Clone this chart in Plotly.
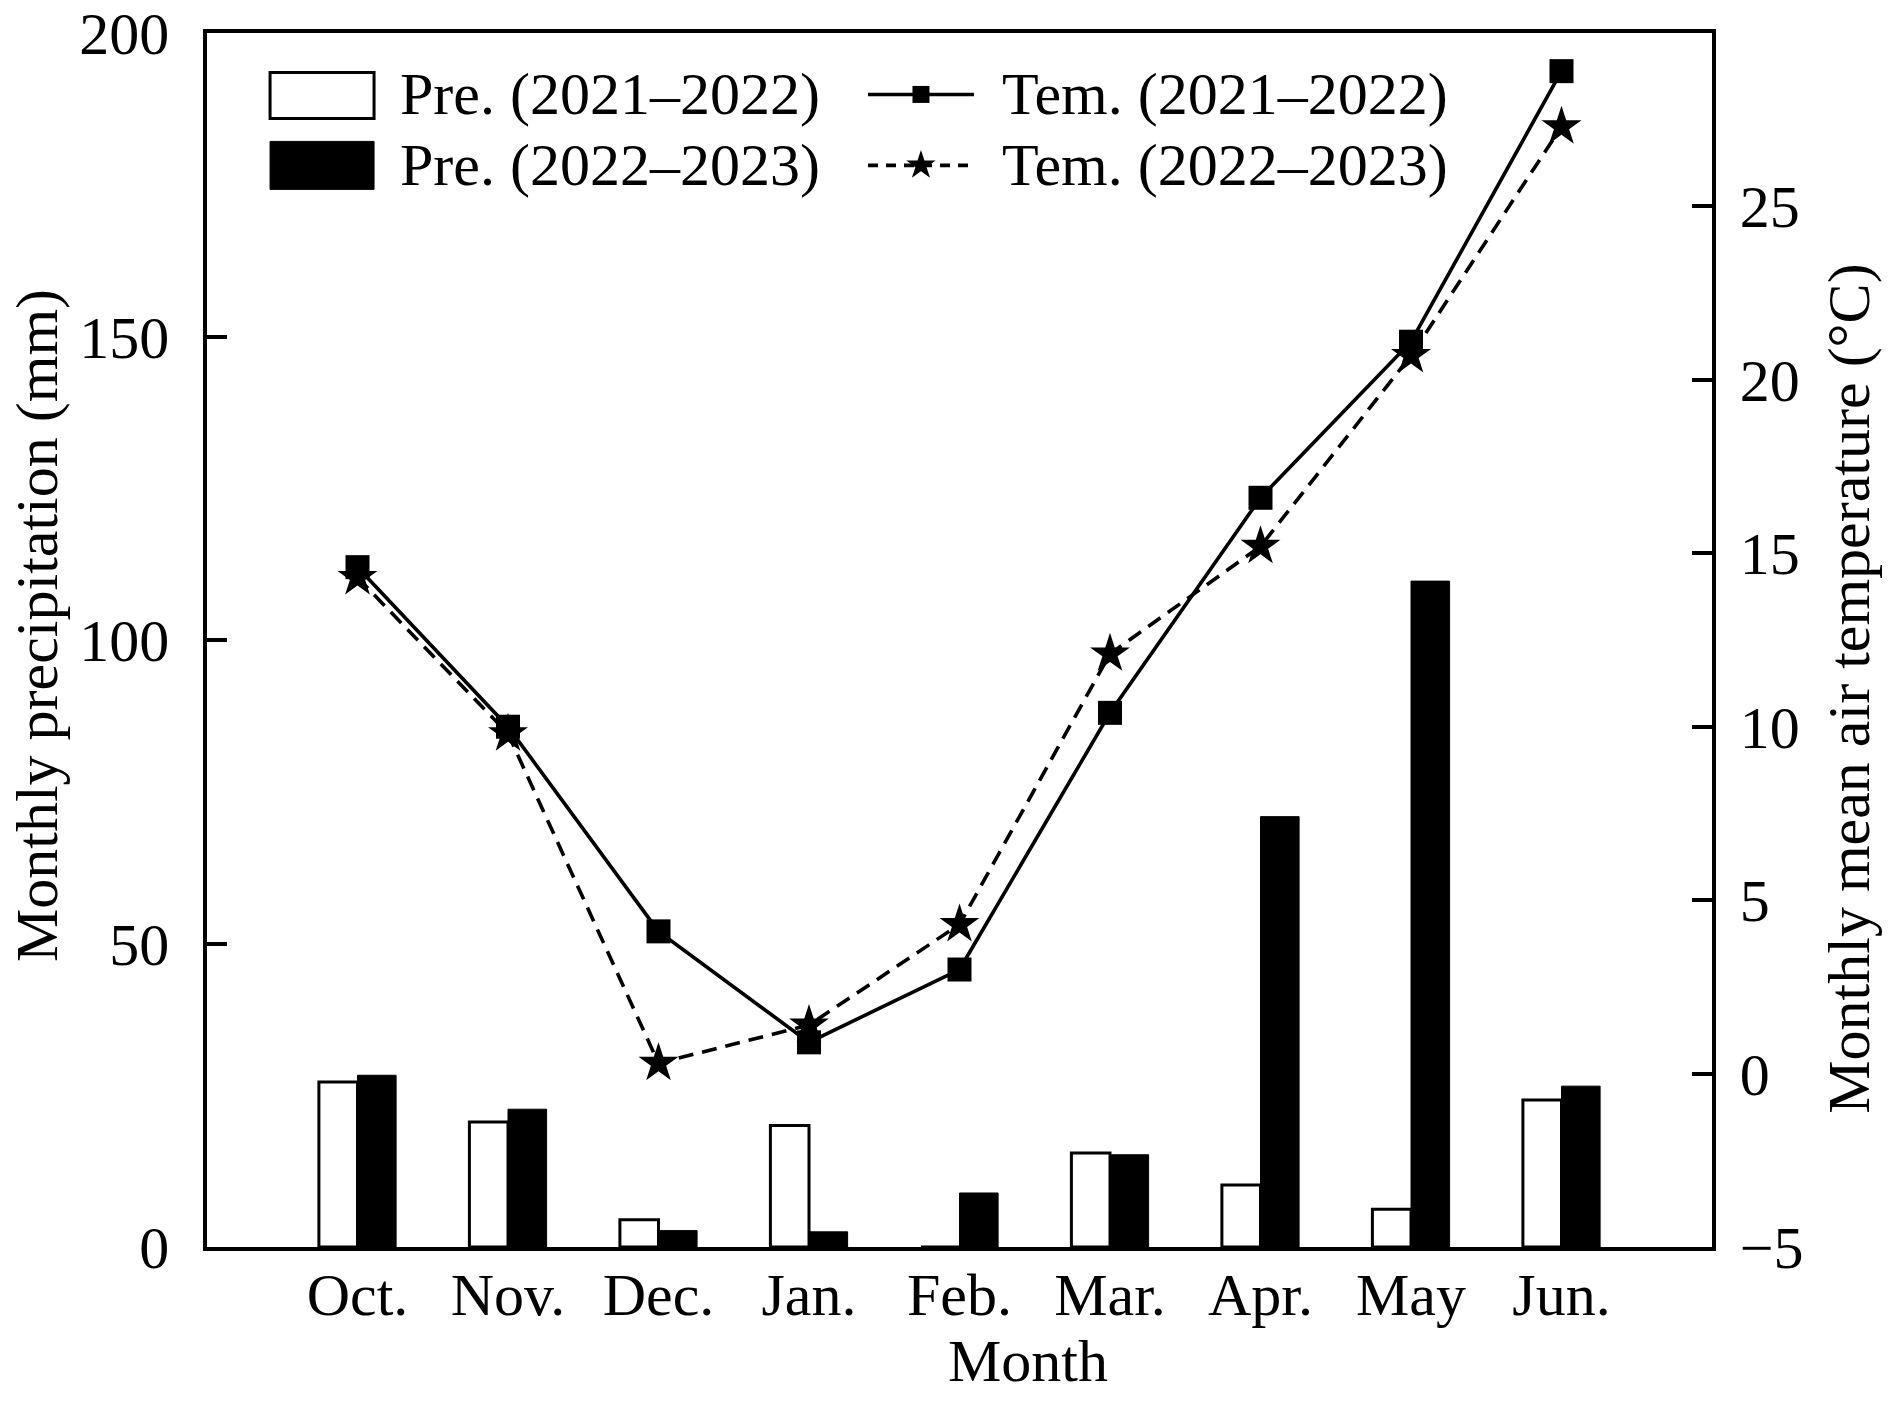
import plotly.graph_objects as go

months = ["Oct.", "Nov.", "Dec.", "Jan.", "Feb.", "Mar.", "Apr.", "May", "Jun."]
pre_2122 = [27.2, 20.6, 4.5, 20.0, 0.0, 15.5, 10.2, 6.2, 24.2]
pre_2223 = [28.3, 22.7, 2.7, 2.5, 8.9, 15.2, 70.9, 109.7, 26.5]
tem_2122 = [14.6, 10.0, 4.1, 0.9, 3.0, 10.4, 16.6, 21.1, 28.9]
tem_2223 = [14.3, 9.8, 0.3, 1.4, 4.3, 12.1, 15.2, 20.7, 27.3]
left_ticks = [0, 50, 100, 150, 200]
right_ticks = [-5, 0, 5, 10, 15, 20, 25]
legend_labels = ["Pre. (2021\u20132022)", "Pre. (2022\u20132023)",
                 "Tem. (2021\u20132022)", "Tem. (2022\u20132023)"]

FONT = "Liberation Serif, Times New Roman, serif"
FS = 60
DASH = "15px,9px"
LW = 3.6

fig = go.Figure()
fig.add_trace(go.Bar(x=months, y=pre_2122, name=legend_labels[0],
                     marker=dict(color="white", line=dict(color="black", width=3)),
                     showlegend=False))
fig.add_trace(go.Bar(x=months, y=pre_2223, name=legend_labels[1],
                     marker=dict(color="black", line=dict(color="black", width=1)),
                     showlegend=False))
fig.add_trace(go.Scatter(x=months, y=tem_2122, yaxis="y2", mode="lines+markers",
                         name=legend_labels[2],
                         line=dict(color="black", width=LW),
                         marker=dict(symbol="square", size=24, color="black"),
                         showlegend=False))
fig.add_trace(go.Scatter(x=months, y=tem_2223, yaxis="y2", mode="lines+markers",
                         name=legend_labels[3],
                         line=dict(color="black", width=LW, dash=DASH),
                         marker=dict(symbol="star", size=30, color="black"),
                         showlegend=False))

# ---- manual legend (layout positions, on hidden overlay axes) ----
row1, row2 = 0.9494, 0.891
lx0, lx1 = 0.4392, 0.5096
lxm = (lx0 + lx1) / 2
fig.add_trace(go.Scatter(x=[lx0, lx1], y=[row1, row1], xaxis="x3", yaxis="y3",
                         mode="lines", line=dict(color="black", width=LW),
                         showlegend=False, hoverinfo="skip"))
fig.add_trace(go.Scatter(x=[lxm], y=[row1], xaxis="x3", yaxis="y3",
                         mode="markers", marker=dict(symbol="square", size=17, color="black"),
                         showlegend=False, hoverinfo="skip"))
fig.add_trace(go.Scatter(x=[lx0, lx1], y=[row2, row2], xaxis="x3", yaxis="y3",
                         mode="lines", line=dict(color="black", width=LW, dash="10px,8px"),
                         showlegend=False, hoverinfo="skip"))
fig.add_trace(go.Scatter(x=[lxm], y=[row2], xaxis="x3", yaxis="y3",
                         mode="markers", marker=dict(symbol="star", size=22, color="black"),
                         showlegend=False, hoverinfo="skip"))

shapes = [
    dict(type="rect", xref="paper", yref="paper", x0=0.0419, x1=0.111, y0=0.9296, y1=0.9675,
         line=dict(color="black", width=3), fillcolor="white"),
    dict(type="rect", xref="paper", yref="paper", x0=0.0419, x1=0.111, y0=0.8712, y1=0.9107,
         line=dict(color="black", width=1), fillcolor="black"),
]

annotations = []
for txt, x, y in [(legend_labels[0], 0.1269, row1), (legend_labels[1], 0.1269, row2),
                  (legend_labels[2], 0.527, row1), (legend_labels[3], 0.527, row2)]:
    annotations.append(dict(text=txt, x=x, y=y, xref="paper", yref="paper",
                            xanchor="left", yanchor="middle", showarrow=False,
                            font=dict(family=FONT, size=FS, color="black")))
# axis titles
annotations.append(dict(text="Monthly precipitation (mm)", x=-0.1125, y=0.512,
                        xref="paper", yref="paper", textangle=-90, showarrow=False,
                        xanchor="center", yanchor="middle",
                        font=dict(family=FONT, size=FS, color="black")))
annotations.append(dict(text="Monthly mean air temperature (\u00b0C)", x=1.0905, y=0.46,
                        xref="paper", yref="paper", textangle=-90, showarrow=False,
                        xanchor="center", yanchor="middle",
                        font=dict(family=FONT, size=FS, color="black")))
annotations.append(dict(text="Month", x=0.5455, y=-0.094,
                        xref="paper", yref="paper", showarrow=False,
                        xanchor="center", yanchor="middle",
                        font=dict(family=FONT, size=FS, color="black")))

fig.update_layout(
    width=1890, height=1403,
    margin=dict(l=199, r=186, t=25, b=164),
    paper_bgcolor="white", plot_bgcolor="white",
    font=dict(family=FONT, size=FS, color="black"),
    barmode="group", bargap=0.487, bargroupgap=0,
    showlegend=False,
    shapes=shapes, annotations=annotations,
    xaxis=dict(type="category", range=[-1, 9], showline=True, mirror=True,
               linecolor="black", linewidth=3.5, ticks="", showgrid=False,
               zeroline=False, ticklabelstandoff=-8, automargin=False,
               tickfont=dict(family=FONT, size=FS)),
    yaxis=dict(range=[0, 200], tickvals=left_ticks, showline=True, linecolor="black",
               linewidth=3.5, ticks="inside", ticklen=20, tickwidth=3.5,
               tickcolor="black", showgrid=False, zeroline=False, automargin=False,
               ticklabeloverflow="allow",
               ticklabelstandoff=22, tickfont=dict(family=FONT, size=FS)),
    yaxis2=dict(range=[-5, 30], tickvals=right_ticks, overlaying="y", side="right",
                showline=True, linecolor="black", linewidth=3.5, ticks="inside",
                ticklen=20, tickwidth=3.5, tickcolor="black", showgrid=False,
                zeroline=False, ticklabelstandoff=12, automargin=False,
                ticklabeloverflow="allow",
                tickfont=dict(family=FONT, size=FS)),
    xaxis3=dict(overlaying="x", range=[0, 1], visible=False, fixedrange=True),
    yaxis3=dict(overlaying="y", anchor="x3", range=[0, 1], visible=False, fixedrange=True),
)

fig.write_html("out.html")
